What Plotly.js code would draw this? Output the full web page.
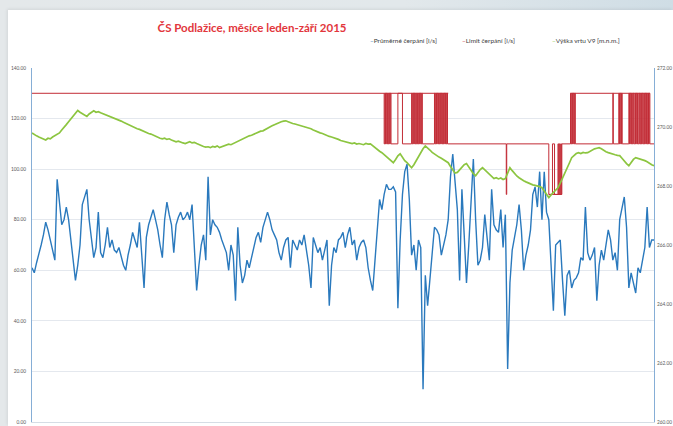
<!DOCTYPE html>
<html lang="cs">
<head>
<meta charset="utf-8">
<script src="https://cdn.plot.ly/plotly-3.0.1.min.js"></script>
<style>
  html, body { margin: 0; padding: 0; }
  body {
    width: 673px; height: 426px; overflow: hidden; position: relative;
    background: linear-gradient(90deg, #e4e8ea 0%, #e2e8eb 60%, #cfdde5 100%);
  }
  #list {
    position: absolute; left: 8px; top: 10px; width: 665px; height: 416px;
    background: #ffffff; box-shadow: -1px -1px 3px rgba(0,0,0,0.08);
  }
  #graf { position: absolute; left: 0; top: 0; width: 673px; height: 426px; }
</style>
</head>
<body>
<div id="list"></div>
<div id="graf"></div>
<script>
// Denní průměrné čerpání [l/s], 1. 1. – 30. 9. 2015
const prumerneCerpani = [
  61,59,63,66,70,74,79,76,72,68,64,96,88,78,80,85,80,72,62,56,62,70,86,89,92,80,72,65,69,83,
  67,65,70,77,69,72,68,67,69,65,62,60,66,70,75,72,69,79,64,53,73,78,81,84,80,76,
  70,65,80,87,82,78,67,78,81,83,80,81,83,80,86,70,52,62,70,74,64,97,74,80,78,77,75,72,69,67,
  60,70,66,48,77,62,55,58,64,61,65,69,73,75,71,77,80,83,80,76,74,72,67,64,69,
  72,73,61,72,70,68,72,70,74,68,62,53,73,70,67,69,64,68,72,46,62,69,67,72,73,75,69,74,77,70,
  72,64,69,71,72,69,61,56,52,64,78,88,84,90,94,92,92,93,91,45,72,90,99,102,88,
  66,70,60,72,69,13,58,46,56,69,77,76,74,66,70,74,80,97,106,95,84,56,92,74,55,70,86,104,80,62,
  64,69,82,72,64,92,78,76,75,84,69,82,21,55,68,73,78,86,76,60,66,70,76,90,
  93,85,99,80,99,83,80,62,44,70,71,72,56,42,58,60,53,56,57,59,65,64,85,67,64,66,69,48,62,68,
  64,70,76,72,64,67,60,80,85,89,77,53,59,55,51,61,59,64,69,85,69,72,72
];

// Výška hladiny ve vrtu V9 [m n. m.], denně
const vyskaVrtuV9 = [
  269.80,269.74,269.70,269.66,269.62,269.58,269.56,269.62,269.60,269.66,269.70,269.76,269.80,269.90,269.98,
  270.08,270.18,270.28,270.40,270.50,270.56,270.50,270.46,270.42,270.36,270.44,270.50,270.55,270.50,270.52,
  270.48,270.45,270.42,270.40,270.36,270.34,270.30,270.28,270.24,270.20,270.16,270.12,270.08,270.04,270.00,
  269.98,269.94,269.92,269.88,269.86,269.82,269.78,269.76,269.72,269.68,269.64,269.62,269.60,269.62,269.58,
  269.60,269.56,269.54,269.50,269.52,269.48,269.46,269.44,269.48,269.50,269.46,269.48,269.44,269.40,269.36,
  269.34,269.32,269.33,269.30,269.34,269.32,269.36,269.30,269.33,269.36,269.38,269.42,269.40,269.44,269.47,
  269.50,269.54,269.58,269.62,269.66,269.70,269.72,269.76,269.80,269.82,269.86,269.87,269.92,269.96,270.00,
  270.04,270.08,270.11,270.14,270.18,270.20,270.21,270.18,270.14,270.12,270.10,270.08,270.06,270.04,270.00,
  269.98,269.97,269.94,269.90,269.86,269.84,269.80,269.78,269.74,269.72,269.68,269.66,269.64,269.60,269.58,
  269.54,269.52,269.50,269.47,269.46,269.44,269.46,269.42,269.44,269.43,269.40,269.44,269.42,269.43,269.36,
  269.30,269.24,269.18,269.13,269.06,269.00,268.92,268.86,268.79,268.90,269.02,269.09,268.96,268.86,268.79,
  268.70,268.62,268.72,268.86,268.98,269.12,269.26,269.36,269.30,269.22,269.14,269.08,269.03,268.98,268.94,
  268.88,268.84,268.79,268.66,268.54,268.44,268.46,268.56,268.66,268.72,268.76,268.64,268.52,268.42,268.35,
  268.46,268.56,268.62,268.54,268.46,268.38,268.30,268.25,268.28,268.24,268.27,268.22,268.25,268.46,268.62,
  268.52,268.42,268.34,268.28,268.22,268.18,268.14,268.10,268.06,268.04,268.02,268.01,267.98,267.94,267.84,
  267.72,267.61,267.70,267.78,267.86,267.94,268.10,268.26,268.42,268.60,268.78,268.96,269.04,269.10,269.13,
  269.10,269.14,269.12,269.13,269.18,269.22,269.26,269.28,269.30,269.26,269.20,269.16,269.13,269.10,269.08,
  269.06,269.04,269.03,268.94,268.84,268.76,268.69,268.80,268.90,268.96,268.94,268.90,268.88,268.86,268.82,
  268.76,268.72,268.69
];

// Limit čerpání [l/s] – okamžiky změn (den od 1. 1.) a od nich platná hodnota
const limitDen = [
  0,
  154,154.3,154.6,154.9,155.2,155.5,155.8,156.1,156.4,156.7,157,
  160,162,
  166,166.3,166.6,166.9,167.2,167.5,167.8,168.1,
  168.6,168.9,169.2,169.5,169.8,170.1,170.4,170.7,
  176,176.3,176.6,176.9,177.2,177.5,177.8,178.1,178.4,178.7,
  179,179.3,179.6,179.9,180.2,180.5,180.8,181.1,181.4,181.7,
  207.4,207.6,
  226,227.6,228.5,230,230.3,230.6,230.9,231.2,231.5,231.7,
  235.5,235.8,236.1,236.4,236.7,237,237.3,237.6,
  254,254.2,
  256.6,256.9,257.2,257.5,257.8,258.1,
  261,261.3,261.6,261.9,262.2,262.5,262.8,263.1,
  263.6,263.9,264.2,264.5,264.8,265.1,
  265.6,265.9,266.2,266.5,266.8,267.1,
  267.5,267.8,268.1,268.4,268.7,269,269.3,269.6,269.9,270.2,
  272
];
const limitHodnota = [
  130,
  110,130,110,130,110,130,110,130,110,130,110,
  130,110,
  130,110,130,110,130,110,130,110,
  130,110,130,110,130,110,130,110,
  130,110,130,110,130,110,130,110,130,110,
  130,110,130,110,130,110,130,110,130,110,
  90,110,
  90,110,90,110,90,110,90,110,90,110,
  130,110,130,110,130,110,130,110,
  130,110,
  130,110,130,110,130,110,
  130,110,130,110,130,110,130,110,
  130,110,130,110,130,110,
  130,110,130,110,130,110,
  130,110,130,110,130,110,130,110,130,110,
  110
];
// Souběžně platný limit v obdobích střídání (úseky oddělené null)
const limitSoubezneDen     = [154, 182, null, 226, 231.7, null, 235.5, 270.2];
const limitSoubezneHodnota = [130, 130, null,  90,    90, null,   130,   130];

const dny = prumerneCerpani.map((_, i) => i);

const barvaModra = '#2a79bd';
const barvaCervena = '#c22c36';
const barvaZelena = '#8cc540';

const traces = [
  {
    name: 'Průměrné čerpání [l/s]',
    x: dny, y: prumerneCerpani,
    type: 'scatter', mode: 'lines',
    line: { color: barvaModra, width: 1.4 },
    yaxis: 'y'
  },
  {
    name: 'Limit čerpání [l/s]',
    x: limitDen.concat([null], limitSoubezneDen),
    y: limitHodnota.concat([null], limitSoubezneHodnota),
    type: 'scatter', mode: 'lines',
    line: { color: barvaCervena, width: 1, shape: 'hv' },
    connectgaps: false,
    yaxis: 'y'
  },
  {
    name: 'Výška vrtu V9 [m.n.m.]',
    x: dny, y: vyskaVrtuV9,
    type: 'scatter', mode: 'lines',
    line: { color: barvaZelena, width: 1.7 },
    yaxis: 'y2'
  }
];

// legenda jako řádek textu nad grafem
const legenda = [
  { text: 'Průměrné čerpání [l/s]', barva: barvaModra, x: 0.5405 },
  { text: 'Limit čerpání [l/s]', barva: barvaCervena, x: 0.688 },
  { text: 'Výška vrtu V9 [m.n.m.]', barva: barvaZelena, x: 0.833 }
].map(p => ({
  xref: 'paper', yref: 'paper', x: p.x, y: 1.0763,
  xanchor: 'left', yanchor: 'middle', showarrow: false,
  text: '<span style="color:' + p.barva + '">–</span>' + p.text,
  font: { family: 'Lato, "Liberation Sans", sans-serif', size: 6.5, color: '#404040' }
}));

const osaFont = { family: 'Lato, "Liberation Sans", sans-serif', size: 4.8, color: '#595959' };

const layout = {
  width: 673, height: 426,
  paper_bgcolor: 'rgba(0,0,0,0)',
  plot_bgcolor: 'rgba(0,0,0,0)',
  margin: { l: 32, r: 19, t: 68, b: 4, pad: 0 },
  showlegend: false,
  title: {
    text: '<b>ČS Podlažice, měsíce leden-září 2015</b>',
    x: 0.3745, xanchor: 'center', y: 0.934, yanchor: 'middle',
    font: { family: 'Lato, "Liberation Sans", sans-serif', size: 11.5, color: '#e2363c' }
  },
  xaxis: {
    range: [0, 272],
    showticklabels: false, showgrid: false, zeroline: false,
    showline: true, linecolor: '#d5dde5', linewidth: 1,
    ticks: ''
  },
  yaxis: {
    range: [0, 140], dtick: 20, tickformat: '.2f',
    showgrid: true, gridcolor: '#e4e8ee', gridwidth: 1,
    zeroline: false, showline: true, linecolor: '#86aed6', linewidth: 1,
    ticks: '', tickfont: osaFont, ticklabelstandoff: 4
  },
  yaxis2: {
    range: [260, 272], dtick: 2, tickformat: '.2f',
    overlaying: 'y', side: 'right',
    showgrid: false, zeroline: false,
    showline: true, linecolor: '#86aed6', linewidth: 1,
    ticks: '', tickfont: osaFont, ticklabelstandoff: 1
  },
  annotations: legenda
};

Plotly.newPlot('graf', traces, layout, { staticPlot: true, displayModeBar: false });
</script>
</body>
</html>
